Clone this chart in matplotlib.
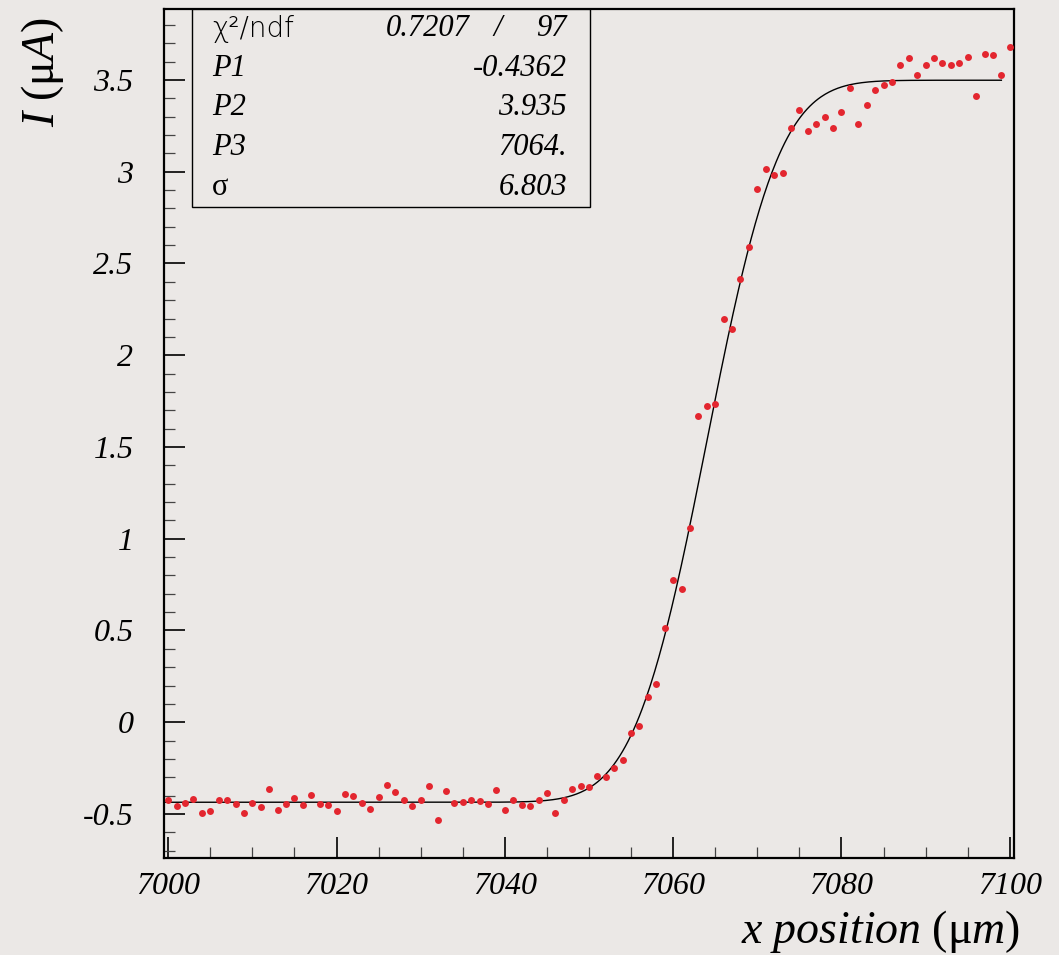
import math
import numpy as np
import matplotlib
matplotlib.use("Agg")
import matplotlib.pyplot as plt
from matplotlib.ticker import MultipleLocator
from matplotlib.patches import Rectangle

# measured current vs. position (one point per micron)
x_pos = np.arange(7000, 7101)
current = [
    -0.424, -0.456, -0.438, -0.416, -0.494, -0.482, -0.422, -0.422, -0.443, -0.496,
    -0.441, -0.460, -0.365, -0.476, -0.447, -0.414, -0.451, -0.394, -0.447, -0.451,
    -0.485, -0.391, -0.403, -0.438, -0.473, -0.409, -0.340, -0.378, -0.422, -0.456,
    -0.425, -0.347, -0.531, -0.374, -0.438, -0.434, -0.422, -0.432, -0.445, -0.371,
    -0.476, -0.422, -0.451, -0.456, -0.422, -0.387, -0.496, -0.422, -0.362, -0.347,
    -0.351, -0.293, -0.300, -0.249, -0.205, -0.058, -0.018, 0.140, 0.207, 0.511,
    0.773, 0.725, 1.058, 1.668, 1.721, 1.736, 2.199, 2.145, 2.416, 2.588,
    2.904, 3.014, 2.983, 2.993, 3.239, 3.337, 3.221, 3.262, 3.299, 3.239,
    3.328, 3.459, 3.259, 3.364, 3.446, 3.475, 3.488, 3.582, 3.620, 3.528,
    3.582, 3.620, 3.590, 3.582, 3.590, 3.626, 3.415, 3.642, 3.637, 3.528,
    3.682,
]

# fit results (erf step)
chi2, ndf = 0.7207, 97
P1, P2, P3, sigma = -0.4362, 3.935, 7064.0, 6.803
stat_labels = ["P1", "P2", "P3", "σ"]
stat_values = ["-0.4362", "3.935", "7064.", "6.803"]

bg = "#ebe8e6"
plt.rcParams["mathtext.fontset"] = "custom"
plt.rcParams["mathtext.rm"] = "Liberation Serif"
plt.rcParams["mathtext.it"] = "Liberation Serif:italic"

fig = plt.figure(figsize=(10.59, 9.55), dpi=100, facecolor=bg)
ax = fig.add_axes([164 / 1059, 1 - 858 / 955, 850 / 1059, 849 / 955])
ax.set_facecolor(bg)

xf = np.linspace(6999.5, 7099, 600)
yf = [P1 + P2 / 2 * (1 + math.erf((v - P3) / (math.sqrt(2) * sigma))) for v in xf]
ax.plot(xf, yf, color="black", lw=1.0, zorder=2)
ax.plot(x_pos, current, "o", color="#e3262f", ms=5.0, mec="none", zorder=3)

ax.set_xlim(6999.5, 7100.5)
ax.set_ylim(-0.74, 3.887)

ax.xaxis.set_major_locator(MultipleLocator(20))
ax.xaxis.set_minor_locator(MultipleLocator(5))
ax.yaxis.set_major_locator(MultipleLocator(0.5))
ax.yaxis.set_minor_locator(MultipleLocator(0.1))
ax.tick_params(which="both", direction="in", top=False, right=False, color="black")
ax.tick_params(which="major", length=15, width=1.2)
ax.tick_params(which="minor", length=8, width=0.9, color="#444444")
ax.tick_params(axis="y", which="major", pad=22)
ax.tick_params(axis="x", which="major", pad=10)
ax.yaxis.set_major_formatter(plt.FuncFormatter(lambda v, p: "0" if abs(v) < 1e-9 else f"{v:g}"))
for lab in ax.get_xticklabels() + ax.get_yticklabels():
    lab.set_fontfamily("Liberation Serif")
    lab.set_fontstyle("italic")
    lab.set_fontsize(23)
for s in ax.spines.values():
    s.set_linewidth(1.6)

# stats box
ax.add_patch(Rectangle((0.0335, 0.767), 0.4675, 0.233, transform=ax.transAxes,
                       facecolor=bg, edgecolor="black", lw=1.0, zorder=4))
row_h = 0.233 / 5
def row_y(i):
    return 1.0 - row_h * (i + 0.5)

vx = (567 - 164) / 850
lx = (212 - 164) / 850
ax.text(lx, row_y(0), "χ²/ndf", transform=ax.transAxes, ha="left", va="center",
        fontsize=20, family="DejaVu Sans", fontweight="light", zorder=5)
ax.text((470 - 164) / 850, row_y(0), f"{chi2:.4f}", transform=ax.transAxes, ha="right",
        va="center", fontsize=22, family="Liberation Serif", style="italic", zorder=5)
ax.text((498 - 164) / 850, row_y(0), "/", transform=ax.transAxes, ha="center",
        va="center", fontsize=22, family="Liberation Serif", style="italic", zorder=5)
ax.text(vx, row_y(0), f"{ndf}", transform=ax.transAxes, ha="right", va="center",
        fontsize=22, family="Liberation Serif", style="italic", zorder=5)
for i, (lab, val) in enumerate(zip(stat_labels, stat_values), start=1):
    ax.text(lx, row_y(i), lab, transform=ax.transAxes, ha="left", va="center",
            fontsize=22, family="Liberation Serif",
            style="normal" if lab == "σ" else "italic", zorder=5)
    ax.text(vx, row_y(i), val, transform=ax.transAxes, ha="right", va="center",
            fontsize=22, family="Liberation Serif", style="italic", zorder=5)

# axis titles, ROOT-style at the axis ends
fig.text(1020 / 1059, 1 - 943 / 955, r"$\mathit{x\ position\ }\mathit{(}\mathrm{\mu}\mathit{m)}$",
         ha="right", va="baseline", fontsize=33)
fig.text(43 / 1059, 1 - 127 / 955, r"$\mathit{I\ (}\mathrm{\mu}\mathit{A)}$",
         ha="center", va="bottom", rotation=90, fontsize=33)

fig.savefig("out.png", dpi=100, facecolor=bg)
